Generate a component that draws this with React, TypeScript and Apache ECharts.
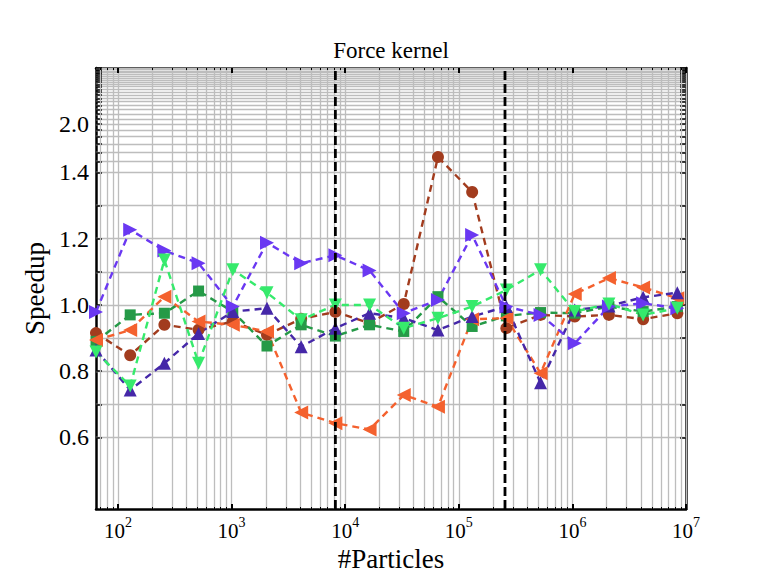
import React, { useEffect, useRef } from "react";
import * as echarts from "echarts";

// ---- data ----
const particles = [64, 128, 256, 512, 1024, 2048, 4096, 8192, 16384, 32768, 65536, 131072, 262144, 524288, 1048576, 2097152, 4194304, 8388608];

const brownCircles = [0.915, 0.848, 0.94, 0.925, 0.95, 0.91, 0.958, 0.979, 0.945, 1.003, 1.548, 1.341, 0.93, 0.97, 0.965, 0.97, 0.957, 0.975];
const greenSquares = [0.89, 0.97, 0.975, 1.042, 0.98, 0.876, 0.94, 0.906, 0.94, 0.92, 1.025, 0.935, 0.967, 0.977, 0.975, 0.995, 0.98, 0.995];
const orangeLeft = [0.894, 0.924, 1.025, 0.95, 0.94, 0.92, 0.675, 0.643, 0.624, 0.728, 0.693, 0.957, 0.96, 0.794, 1.033, 1.081, 1.053, 1.02];
const indigoUp = [0.864, 0.743, 0.824, 0.914, 0.98, 0.99, 0.874, 0.93, 0.975, 0.96, 0.924, 0.965, 0.995, 0.765, 0.985, 0.997, 1.023, 1.037];
const purpleRight = [0.979, 1.227, 1.164, 1.126, 0.995, 1.188, 1.126, 1.15, 1.104, 0.975, 1.015, 1.211, 0.995, 0.97, 0.884, 0.995, 1.005, 0.99];
const lightGreenDown = [0.858, 0.755, 1.136, 0.824, 1.106, 1.037, 0.955, 1.0, 1.0, 0.93, 0.96, 0.995, 1.045, 1.106, 0.98, 1.003, 0.97, 0.99];

const verticalMarks = [8192, 255000];

const yTickLabels = [0.6, 0.8, 1.0, 1.2, 1.4, 2.0];
const xTickExponents = [2, 3, 4, 5, 6, 7];

// ---- scale helpers ----
const BREAK = 1.4;
const K = 0.679;
const T = (y: number) => (y <= BREAK ? y : BREAK + (1 / BREAK - 1 / y) * K);
const Tinv = (t: number) => (t <= BREAK + 1e-9 ? t : 1 / (1 / BREAK - (t - BREAK) / K));

const X_MIN = Math.log10(64);
const X_MAX = 7;
const Y_MIN = 0.384;
const Y_MAX = T(4.0);

const yGrid: number[] = [];
for (let i = 6; i <= 40; i++) yGrid.push(T(i / 10));
const xGrid: number[] = [];
for (let n = 1; n <= 6; n++) for (let k = 1; k <= 9; k++) {
  const v = Math.log10(k * Math.pow(10, n));
  if (v > X_MIN + 1e-6 && v < X_MAX - 1e-6) xGrid.push(v);
}
xGrid.push(7);
const xMajor = xTickExponents.slice();
const xMinor = xGrid.filter((v) => Math.abs(v - Math.round(v)) > 1e-6);

const FONT = "Liberation Serif";
const GRID = { left: 96, right: 78, top: 68, bottom: 64 };
const PW = 764 - GRID.left - GRID.right;
const PH = 573 - GRID.top - GRID.bottom;

const baseX = {
  type: "value" as const,
  min: X_MIN,
  max: X_MAX,
  splitLine: { show: false },
  axisLabel: { show: false },
  axisTick: { show: false },
  axisLine: { show: false },
};
const baseY = {
  type: "value" as const,
  min: Y_MIN,
  max: Y_MAX,
  splitLine: { show: false },
  axisLabel: { show: false },
  axisTick: { show: false },
  axisLine: { show: false },
};

const seriesDefs = [
  { name: "brown", data: brownCircles, color: "#a23c1e", symbol: "circle", size: 12, rotate: 0 },
  { name: "green", data: greenSquares, color: "#259a47", symbol: "rect", size: 11, rotate: 0 },
  { name: "orange", data: orangeLeft, color: "#f4612e", symbol: "triangle", size: 14, rotate: 90 },
  { name: "indigo", data: indigoUp, color: "#4527a8", symbol: "triangle", size: 13, rotate: 0 },
  { name: "purple", data: purpleRight, color: "#6a38f2", symbol: "triangle", size: 14, rotate: -90 },
  { name: "lightgreen", data: lightGreenDown, color: "#36ea6c", symbol: "triangle", size: 13, rotate: 180 },
];

export default function App() {
  const ref = useRef<HTMLDivElement>(null);
  useEffect(() => {
    if (!ref.current) return;
    const chart = echarts.init(ref.current, undefined, { renderer: "svg" });
    const series: any[] = seriesDefs.map((s) => ({
      name: s.name,
      type: "line",
      xAxisIndex: 0,
      yAxisIndex: 0,
      data: particles.map((p, i) => [Math.log10(p), T(s.data[i])]),
      symbol: s.symbol,
      symbolSize: s.size,
      symbolRotate: s.rotate,
      showSymbol: true,
      lineStyle: { color: s.color, width: 2.4, type: [7, 5] },
      itemStyle: { color: s.color },
      z: 3,
    }));
    verticalMarks.forEach((m) => {
      series.push({
        type: "line",
        xAxisIndex: 0,
        yAxisIndex: 0,
        data: [[Math.log10(m), Y_MIN], [Math.log10(m), Y_MAX]],
        symbol: "none",
        lineStyle: { color: "#000", width: 2.8, type: [9, 4] },
        z: 4,
      });
    });

    chart.setOption({
      animation: false,
      backgroundColor: "#fff",
      grid: { ...GRID, show: false, containLabel: false, outerBoundsMode: "none" },
      xAxis: [
        {
          ...baseX,
          position: "bottom",
          name: "#Particles",
          nameLocation: "middle",
          nameGap: 26,
          nameTextStyle: { fontFamily: FONT, fontSize: 27, color: "#000" },
          axisTick: {
            show: true,
            inside: true,
            length: PH,
            customValues: xGrid,
            lineStyle: { color: "#bdbdbd", width: 1.3 },
          },
          axisLabel: {
            show: true,
            customValues: xTickExponents,
            margin: 6,
            formatter: (v: number) => `{b|10}{s|${Math.round(v)}}`,
            rich: {
              b: { fontFamily: FONT, fontSize: 21, lineHeight: 26, color: "#000", verticalAlign: "bottom" },
              s: { fontFamily: FONT, fontSize: 14, lineHeight: 14, color: "#000", verticalAlign: "top" },
            },
          },
        },
        {
          ...baseX,
          position: "bottom",
          axisLine: { show: true, lineStyle: { color: "#000", width: 2.5 } },
          axisTick: { show: true, inside: true, length: 5, customValues: xMajor, lineStyle: { color: "#000", width: 2 } },
        },
        {
          ...baseX,
          position: "bottom",
          axisTick: { show: true, inside: true, length: 2, customValues: xMinor, lineStyle: { color: "#000", width: 1 } },
        },
        {
          ...baseX,
          position: "top",
          name: "Force kernel",
          nameLocation: "middle",
          nameGap: 6,
          nameTextStyle: { fontFamily: FONT, fontSize: 23, color: "#000" },
          axisLine: { show: true, lineStyle: { color: "#000", width: 2.5 } },
          axisTick: { show: true, inside: true, length: 5, customValues: xMajor, lineStyle: { color: "#000", width: 2 } },
        },
        {
          ...baseX,
          position: "top",
          axisTick: { show: true, inside: true, length: 2, customValues: xMinor, lineStyle: { color: "#000", width: 1 } },
        },
      ],
      yAxis: [
        {
          ...baseY,
          position: "left",
          name: "Speedup",
          nameLocation: "middle",
          nameGap: 46,
          nameRotate: 90,
          nameTextStyle: { fontFamily: FONT, fontSize: 27, color: "#000" },
          axisTick: {
            show: true,
            inside: true,
            length: PW,
            customValues: yGrid,
            lineStyle: { color: "#bdbdbd", width: 1.3 },
          },
          axisLabel: {
            show: true,
            customValues: yTickLabels.map(T),
            margin: 7,
            fontFamily: FONT,
            fontSize: 24,
            color: "#000",
            formatter: (v: number) => Tinv(v).toFixed(1),
          },
        },
        {
          ...baseY,
          position: "left",
          axisLine: { show: true, lineStyle: { color: "#000", width: 2.5 } },
          axisTick: { show: true, inside: true, length: 6, customValues: yGrid, lineStyle: { color: "#000", width: 1.5 } },
        },
        {
          ...baseY,
          position: "right",
          axisLine: { show: true, lineStyle: { color: "#000", width: 2.5 } },
          axisTick: { show: true, inside: true, length: 6, customValues: yGrid, lineStyle: { color: "#000", width: 1.5 } },
        },
      ],
      series,
    });
    return () => chart.dispose();
  }, []);
  return <div ref={ref} style={{ position: "fixed", left: 0, top: 0, width: 764, height: 573 }} />;
}
